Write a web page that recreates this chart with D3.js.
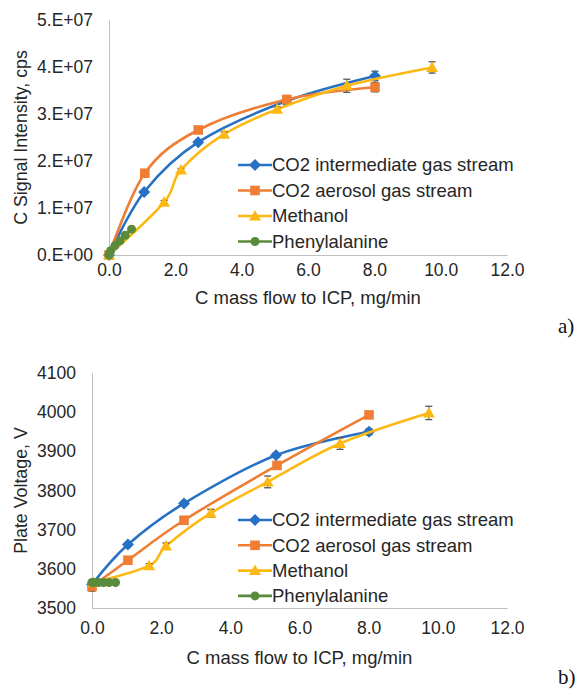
<!DOCTYPE html>
<html><head><meta charset="utf-8">
<script src="https://cdn.jsdelivr.net/npm/d3@7"></script>
<style>body{margin:0;background:#fff}svg{display:block}</style>
</head><body>
<svg id="c" width="583" height="689"></svg>
<script>
// ---------- data ----------
const seriesNames = ["CO2 intermediate gas stream","CO2 aerosol gas stream","Methanol","Phenylalanine"];
const seriesColors = ["#2771c4","#ef7d33","#fdb913","#5a8b3c"];
const seriesShapes = ["diamond","square","triangle","circle"];

const xTicks = [0,2,4,6,8,10,12];
const yTicksA = [0,1e7,2e7,3e7,4e7,5e7];
const yTicksB = [3500,3600,3700,3800,3900,4000,4100];

// panel a) C signal intensity
const aIntX = [0, 1.06, 2.69, 5.33, 8.02];
const aIntY = [0, 1.34e7, 2.40e7, 3.27e7, 3.81e7];
const aIntE = [0, 0.03e7, 0.03e7, 0.05e7, 0.1e7];
const aAerX = [0, 1.08, 2.69, 5.36, 8.02];
const aAerY = [0, 1.74e7, 2.66e7, 3.31e7, 3.57e7];
const aAerE = [0, 0.03e7, 0.03e7, 0.05e7, 0.1e7];
const aMetX = [0, 1.66, 2.17, 3.47, 5.07, 7.17, 9.74];
const aMetY = [0, 1.12e7, 1.81e7, 2.57e7, 3.10e7, 3.60e7, 3.99e7];
const aMetE = [0, 0.04e7, 0.03e7, 0.05e7, 0.05e7, 0.14e7, 0.12e7];
const aPheX = [0, 0.05, 0.18, 0.33, 0.49, 0.68];
const aPheY = [0, 0.09e7, 0.20e7, 0.30e7, 0.42e7, 0.55e7];
const aPheE = [0, 0, 0, 0, 0, 0];

// panel b) plate voltage
const bIntX = [0, 1.04, 2.66, 5.32, 8.01];
const bIntY = [3560, 3662, 3767, 3890, 3950];
const bIntE = [0, 5, 5, 5, 8];
const bAerX = [0, 1.04, 2.66, 5.35, 8.01];
const bAerY = [3555, 3622, 3724, 3864, 3993];
const bAerE = [12, 5, 5, 5, 8];
const bMetX = [0.05, 1.65, 2.14, 3.43, 5.08, 7.17, 9.74];
const bMetY = [3565, 3608, 3658, 3742, 3822, 3920, 3998];
const bMetE = [0, 5, 8, 10, 15, 15, 17];
const bPheX = [0, 0.05, 0.18, 0.33, 0.49, 0.68];
const bPheY = [3565, 3565, 3565, 3565, 3565, 3565];
const bPheE = [0, 0, 0, 0, 0, 0];

// ---------- drawing ----------
const svg = d3.select("#c");
const FONT = "'Liberation Sans', Arial, sans-serif";
const TXT = "#262626";
const AX = "#bfbfbf";

function markerPath(shape){
  if(shape==="diamond") return "M0,-6L6,0L0,6L-6,0Z";
  if(shape==="square") return "M-4.8,-4.8H4.8V4.8H-4.8Z";
  if(shape==="triangle") return "M0,-6L6,4.5H-6Z";
  return d3.symbol(d3.symbolCircle, 64)();
}

function panel(cfg){
  const g = svg.append("g");
  const x = d3.scaleLinear().domain([0,12]).range([cfg.x0,cfg.x1]);
  const y = d3.scaleLinear().domain(cfg.yDomain).range([cfg.yBottom,cfg.yTop]);

  // axes
  const xa = g.append("g").attr("transform",`translate(0,${cfg.yBottom})`)
    .call(d3.axisBottom(x).tickValues(xTicks).tickSize(0).tickPadding(cfg.xPad).tickFormat(d3.format(".1f")));
  const ya = g.append("g").attr("transform",`translate(${cfg.x0},0)`)
    .call(d3.axisLeft(y).tickValues(cfg.yTicks).tickSize(0).tickPadding(cfg.yPad).tickFormat(cfg.yFmt));
  [xa,ya].forEach(a=>{
    a.select(".domain").attr("stroke",AX).attr("stroke-width",1);
    a.selectAll("text").attr("font-family",FONT).attr("font-size",17.5).attr("fill",TXT);
  });

  // titles
  g.append("text").attr("x",(cfg.x0+cfg.x1)/2+cfg.xtDx).attr("y",cfg.xtY)
    .attr("text-anchor","middle").attr("font-family",FONT).attr("font-size",18.5).attr("fill",TXT)
    .text("C mass flow to ICP, mg/min");
  g.append("text").attr("transform",`translate(${cfg.ytX},${(cfg.yTop+cfg.yBottom)/2}) rotate(-90)`)
    .attr("text-anchor","middle").attr("font-family",FONT).attr("font-size",17.8).attr("fill",TXT)
    .text(cfg.yTitle);

  const line = d3.line().x(d=>x(d.x)).y(d=>y(d.y)).curve(d3.curveCardinal.tension(0));

  cfg.series.forEach((s,i)=>{
    const pts = s.x.map((v,k)=>({x:v,y:s.y[k],e:s.e[k]}));
    const sg = g.append("g");
    sg.append("path").datum(pts).attr("d",line).attr("fill","none")
      .attr("stroke",seriesColors[i]).attr("stroke-width",2.6).attr("stroke-linejoin","round");
    // error bars
    const eb = sg.selectAll(".eb").data(pts.filter(p=>p.e>0)).enter().append("g");
    eb.append("line").attr("x1",d=>x(d.x)).attr("x2",d=>x(d.x))
      .attr("y1",d=>y(d.y-d.e)).attr("y2",d=>y(d.y+d.e)).attr("stroke","#555").attr("stroke-width",1);
    eb.append("line").attr("x1",d=>x(d.x)-3.5).attr("x2",d=>x(d.x)+3.5)
      .attr("y1",d=>y(d.y+d.e)).attr("y2",d=>y(d.y+d.e)).attr("stroke","#555").attr("stroke-width",1.3);
    eb.append("line").attr("x1",d=>x(d.x)-3.5).attr("x2",d=>x(d.x)+3.5)
      .attr("y1",d=>y(d.y-d.e)).attr("y2",d=>y(d.y-d.e)).attr("stroke","#555").attr("stroke-width",1.3);
    sg.selectAll(".m").data(pts).enter().append("path")
      .attr("d",markerPath(seriesShapes[i]))
      .attr("transform",d=>`translate(${x(d.x)},${y(d.y)})`)
      .attr("fill",seriesColors[i]);
  });

  // legend
  const lg = g.append("g");
  seriesNames.forEach((n,i)=>{
    const ly = cfg.legY + i*cfg.legStep;
    lg.append("line").attr("x1",238).attr("x2",272).attr("y1",ly).attr("y2",ly)
      .attr("stroke",seriesColors[i]).attr("stroke-width",2.6);
    lg.append("path").attr("d",markerPath(seriesShapes[i])).attr("transform",`translate(255,${ly})`)
      .attr("fill",seriesColors[i]);
    lg.append("text").attr("x",272).attr("y",ly).attr("dy","0.35em")
      .attr("font-family",FONT).attr("font-size",18.5).attr("fill",TXT).text(n);
  });
}

panel({
  x0:109, x1:507, yTop:20, yBottom:255, yDomain:[0,5e7], yTicks:yTicksA,
  yFmt:d=>(d/1e7).toFixed(0)+".E+0"+(d===0?"0":"7"),
  xPad:9, yPad:16, xtY:304, xtDx:0, ytX:27, yTitle:"C Signal Intensity, cps",
  legY:165, legStep:25.5,
  series:[
    {x:aIntX,y:aIntY,e:aIntE},{x:aAerX,y:aAerY,e:aAerE},
    {x:aMetX,y:aMetY,e:aMetE},{x:aPheX,y:aPheY,e:aPheE}]
});
panel({
  x0:92, x1:507, yTop:373, yBottom:608, yDomain:[3500,4100], yTicks:yTicksB,
  yFmt:d3.format("d"),
  xPad:14, yPad:16, xtY:664, xtDx:0, ytX:27, yTitle:"Plate Voltage, V",
  legY:520, legStep:25.3,
  series:[
    {x:bIntX,y:bIntY,e:bIntE},{x:bAerX,y:bAerY,e:bAerE},
    {x:bMetX,y:bMetY,e:bMetE},{x:bPheX,y:bPheY,e:bPheE}]
});

svg.append("text").attr("x",558).attr("y",333).attr("font-family","'Liberation Serif', 'Times New Roman', serif")
  .attr("font-size",21).attr("fill","#111").text("a)");
svg.append("text").attr("x",558).attr("y",684).attr("font-family","'Liberation Serif', 'Times New Roman', serif")
  .attr("font-size",21).attr("fill","#111").text("b)");
</script>
</body></html>
